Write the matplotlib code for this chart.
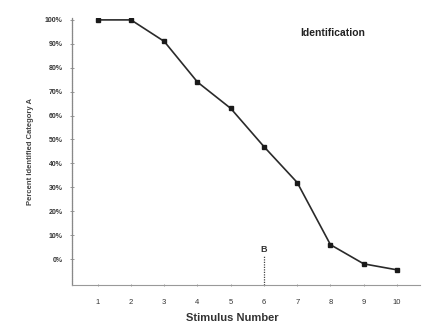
import matplotlib
matplotlib.use("Agg")
import matplotlib.pyplot as plt
from matplotlib.ticker import FixedLocator

# identification curve: percent of responses labelled category A per stimulus
stimulus = [1, 2, 3, 4, 5, 6, 7, 8, 9, 10]
pct_a = [100, 100, 91, 74, 63, 47, 32, 6, -2, -4.5]
y_ticks = [0, 10, 20, 30, 40, 50, 60, 70, 80, 90, 100]
boundary_x = 6

plt.rcParams["font.family"] = ["Liberation Sans", "DejaVu Sans"]

fig = plt.figure(figsize=(4.25, 3.27), dpi=100)
ax = fig.add_axes([0.169, 0.128, 0.819, 0.817])

ax.plot(stimulus, pct_a, color="#2a2a2a", lw=1.2, marker="s",
        markersize=2.8, markerfacecolor="#1a1a1a", markeredgecolor="#1a1a1a")

# category boundary marker
ax.vlines(boundary_x, -10.9, 1.5, colors="#444444", linestyles=(0, (1, 1)), lw=0.9)
ax.text(boundary_x, 2.0, "B", ha="center", va="bottom", fontsize=6.5,
        fontweight="bold", color="#333333")

ax.text(0.75, 0.944, "Identification", transform=ax.transAxes, ha="center",
        va="center", fontsize=7.5, fontweight="bold", color="#222222")

ax.set_xlim(0.22, 10.69)
ax.set_ylim(-10.9, 100.8)

ax.set_xticks(stimulus)
ax.set_xticklabels([str(s) for s in stimulus], fontsize=5.5, color="#333333")
ax.yaxis.set_major_locator(FixedLocator(y_ticks))
ax.set_yticklabels([f"{v}%" for v in y_ticks], fontsize=5, fontweight="bold",
                   color="#333333")
ax.tick_params(axis="x", length=2, width=0.6, pad=9, color="#888888", direction="inout")
ax.tick_params(axis="y", length=3, width=0.6, pad=5, color="#888888", direction="inout")

ax.set_xlabel("Stimulus Number", fontsize=8, fontweight="bold", color="#333333")
ax.xaxis.set_label_coords(0.46, -0.105)
ax.set_ylabel("Percent Identified Category A", fontsize=5.5, fontweight="bold",
              color="#444444", labelpad=8)

for side in ("top", "right"):
    ax.spines[side].set_visible(False)
ax.spines["left"].set_color("#888888")
ax.spines["left"].set_linestyle((0, (1, 0.6)))
ax.spines["left"].set_linewidth(0.9)
ax.spines["bottom"].set_color("#999999")
ax.spines["bottom"].set_linewidth(0.8)

fig.savefig("out.png", dpi=100)
